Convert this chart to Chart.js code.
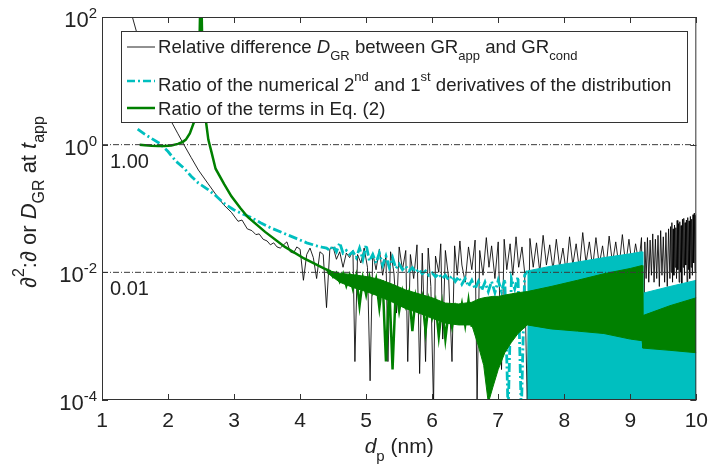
<!DOCTYPE html>
<html>
<head>
<meta charset="utf-8">
<title>Ratio of derivatives</title>
<script src="https://cdn.jsdelivr.net/npm/chart.js@4.4.1/dist/chart.umd.min.js"></script>
<style>
	body { margin: 0; background: #fff; }
</style>
</head>
<body>
<canvas id="chart" width="717" height="472"></canvas>
<script>
	// axis ticks and reference levels
	var xTicks = [1, 2, 3, 4, 5, 6, 7, 8, 9, 10];
	var yTicks = [1e-4, 1e-2, 1, 1e2];
	var refX = [1, 10];
	var refLevels = [1, 0.01];
	var refLabels = ['1.00', '0.01'];

	// relative difference D_GR (black)
	var blackX = [
		1.42, 1.46, 1.52, 1.60, 1.70, 1.80, 1.90, 2.00, 2.06, 2.15,
		2.24, 2.35, 2.46, 2.60, 2.72, 2.84, 2.96, 3.06, 3.12, 3.20,
		3.27, 3.33, 3.38, 3.44, 3.50, 3.55, 3.60, 3.65, 3.70, 3.75,
		3.80, 3.85, 3.90, 3.95, 4.00, 4.05, 4.10, 4.15, 4.20, 4.25,
		4.30, 4.35, 4.40, 4.45, 4.50, 4.55, 4.60, 4.65, 4.70, 4.75,
		4.80, 4.83, 4.87, 4.92, 4.97, 5.02, 5.06, 5.10, 5.15, 5.20,
		5.25, 5.30, 5.33, 5.37, 5.42, 5.46, 5.50, 5.55, 5.60, 5.63,
		5.67, 5.72, 5.77, 5.81, 5.85, 5.90, 5.94, 5.98, 6.02, 6.05,
		6.10, 6.13, 6.16, 6.20, 6.25, 6.30, 6.34, 6.38, 6.42, 6.45,
		6.50, 6.55, 6.60, 6.65, 6.68, 6.72, 6.77, 6.82, 6.86, 6.90,
		6.95, 7.00, 7.05, 7.09, 7.13, 7.18, 7.22, 7.27, 7.31, 7.36,
		7.40, 7.44, 7.48, 7.53, 7.58, 7.63, 7.68, 7.73, 7.78, 7.83,
		7.88, 7.93, 7.98, 8.03, 8.08, 8.13, 8.18, 8.23, 8.28, 8.33,
		8.38, 8.43, 8.48, 8.53, 8.58, 8.63, 8.68, 8.73, 8.78, 8.83,
		8.88, 8.93, 8.98, 9.03, 9.08, 9.13, 9.17,
		9.20, 9.22, 9.24, 9.26, 9.28, 9.30, 9.32, 9.34, 9.36, 9.38,
		9.40, 9.42, 9.44, 9.46, 9.48, 9.50, 9.52, 9.54, 9.56, 9.58,
		9.60, 9.61, 9.62, 9.63, 9.64, 9.65, 9.66, 9.67, 9.68, 9.69,
		9.70, 9.71, 9.72, 9.73, 9.74, 9.75, 9.76, 9.77, 9.78, 9.79,
		9.80, 9.81, 9.82, 9.83, 9.84, 9.85, 9.86, 9.87, 9.88, 9.89,
		9.90, 9.91, 9.92, 9.93, 9.94, 9.95, 9.96, 9.97, 9.98, 9.99,
		10.0
	];
	var blackY = [
		150, 100, 60, 36, 20, 11, 6.3, 3.3, 2.2, 1.48,
		1.0, 0.63, 0.40, 0.25, 0.168, 0.115, 0.087, 0.063, 0.066, 0.048,
		0.045, 0.039, 0.040, 0.033, 0.031, 0.027, 0.029, 0.025, 0.024, 0.027,
		0.030, 0.021, 0.020, 0.025, 0.023, 0.0075, 0.019, 0.024, 0.017, 0.008,
		0.021, 0.019, 0.0028, 0.023, 0.025, 0.016, 0.021, 0.012, 0.020, 0.017,
		0.022, 0.0004, 0.019, 0.014, 0.024, 0.012, 0.0002, 0.020, 0.011, 0.023,
		0.009, 0.018, 0.0004, 0.021, 0.010, 0.0023, 0.025, 0.011, 0.022, 0.0004,
		0.019, 0.008, 0.027, 0.00026, 0.020, 0.0004, 0.024, 0.006, 0.00008, 0.018,
		0.010, 0.028, 0.0009, 0.022, 0.008, 0.0004, 0.026, 0.009, 0.031, 0.013,
		0.007, 0.025, 0.011, 0.032, 0.0001, 0.022, 0.009, 0.035, 0.012, 0.026,
		0.008, 0.030, 0.0003, 0.033, 0.011, 0.028, 0.009, 0.036, 0.012, 0.025,
		0.010, 0.00008, 0.034, 0.012, 0.029, 0.010, 0.038, 0.013, 0.027, 0.011,
		0.033, 0.012, 0.024, 0.010, 0.036, 0.013, 0.028, 0.011, 0.042, 0.014,
		0.030, 0.012, 0.035, 0.013, 0.026, 0.011, 0.037, 0.014, 0.030, 0.012,
		0.039, 0.013, 0.033, 0.012, 0.028, 0.014, 0.035,
		0.0001, 0.030, 0.008, 0.035, 0.007, 0.032, 0.009, 0.040, 0.007, 0.033,
		0.008, 0.038, 0.006, 0.045, 0.009, 0.036, 0.007, 0.042, 0.006, 0.048,
		0.008, 0.052, 0.010, 0.060, 0.007, 0.048, 0.009, 0.055, 0.012, 0.050,
		0.008, 0.065, 0.011, 0.058, 0.007, 0.062, 0.010, 0.054, 0.006, 0.068,
		0.012, 0.070, 0.009, 0.060, 0.013, 0.066, 0.007, 0.072, 0.011, 0.064,
		0.008, 0.075, 0.012, 0.068, 0.009, 0.080, 0.014, 0.085, 0.010, 0.078,
		0.080
	];

	// ratio of numerical 2nd and 1st derivatives (cyan)
	var cyanX = [
		1.54, 1.65, 1.75, 1.87, 2.00, 2.12, 2.25, 2.35, 2.46, 2.60,
		2.72, 2.85, 3.00, 3.12, 3.25, 3.40, 3.55, 3.75, 3.94, 4.10,
		4.25, 4.35, 4.40, 4.45, 4.50, 4.55, 4.60, 4.65, 4.70, 4.75,
		4.80, 4.85, 4.90, 4.95, 5.00, 5.05, 5.10, 5.15, 5.20, 5.25,
		5.30, 5.35, 5.40, 5.45, 5.50, 5.55, 5.60, 5.65, 5.70, 5.75,
		5.80, 5.85, 5.90, 5.95, 6.00, 6.05, 6.10, 6.15, 6.20, 6.25,
		6.30, 6.35, 6.40, 6.45, 6.50, 6.55, 6.60, 6.65, 6.70, 6.75,
		6.80, 6.85, 6.90, 6.95, 7.00, 7.05, 7.10, 7.15, 7.20, 7.25,
		7.30, 7.35, 7.40, 7.44
	];
	var cyanY = [
		1.75, 1.45, 1.25, 1.05, 0.78, 0.55, 0.42, 0.32, 0.25, 0.20,
		0.16, 0.12, 0.095, 0.083, 0.073, 0.060, 0.050, 0.041, 0.034, 0.029,
		0.026, 0.0245, 0.024, 0.022, 0.026, 0.021, 0.029, 0.020, 0.022, 0.019,
		0.021, 0.017, 0.024, 0.016, 0.027, 0.015, 0.019, 0.014, 0.020, 0.013,
		0.018, 0.012, 0.017, 0.0115, 0.0135, 0.011, 0.0125, 0.0105, 0.0118, 0.010,
		0.0112, 0.0095, 0.0105, 0.009, 0.0098, 0.0085, 0.0095, 0.008, 0.009, 0.0076,
		0.0088, 0.0072, 0.0085, 0.0065, 0.008, 0.006, 0.0075, 0.0055, 0.0072, 0.0052,
		0.007, 0.005, 0.0072, 0.0048, 0.0075, 0.005, 0.0078, 0.00006, 0.008, 0.0055,
		0.0085, 0.00006, 0.009, 0.0105
	];
	// dense oscillating part of the cyan series: upper envelope, down to the axis
	var cyanBandX = [7.44, 7.80, 8.20, 8.60, 9.00, 9.18, 9.19, 9.60, 10.0];
	var cyanBandTop = [0.0105, 0.0125, 0.0145, 0.017, 0.0195, 0.021, 0.0047, 0.006, 0.0075];

	// ratio of the terms in Eq. (2) (green)
	var greenX = [
		1.57, 1.65, 1.75, 1.85, 1.95, 2.05, 2.15, 2.22, 2.27, 2.33,
		2.39, 2.44, 2.47, 2.49, 2.495, 2.505, 2.52, 2.55, 2.57, 2.61,
		2.66, 2.72, 2.85, 2.96, 3.10, 3.21, 3.47, 3.77, 4.06, 4.36,
		4.45, 4.50, 4.55, 4.60, 4.65, 4.70, 4.75, 4.80, 4.85, 4.90,
		4.95, 5.00, 5.05, 5.10, 5.15, 5.20, 5.25, 5.30, 5.35, 5.40,
		5.45, 5.50, 5.55, 5.60, 5.65, 5.70, 5.75, 5.80, 5.85, 5.90,
		5.95, 6.00, 6.05, 6.10, 6.15, 6.20, 6.25, 6.30, 6.35, 6.40,
		6.45, 6.50, 6.55, 6.60
	];
	var greenY = [
		1.0, 0.98, 0.96, 0.95, 0.95, 0.97, 1.03, 1.1, 1.2, 1.5,
		2.2, 5, 20, 200, null, 200, 30, 5, 2.5, 1.2,
		0.75, 0.42, 0.24, 0.155, 0.10, 0.073, 0.043, 0.025, 0.0165, 0.0115,
		0.0105, 0.0085, 0.0098, 0.0072, 0.0095, 0.0062, 0.0090, 0.0055, 0.0088, 0.0030,
		0.0080, 0.0045, 0.0085, 0.0050, 0.0078, 0.0028, 0.0075, 0.0004, 0.0065, 0.0003,
		0.0060, 0.0025, 0.0050, 0.0030, 0.0048, 0.0012, 0.0042, 0.0025, 0.0040, 0.0012,
		0.0036, 0.0020, 0.0034, 0.0010, 0.0030, 0.0009, 0.0025, 0.0014, 0.0028, 0.0018,
		0.0032, 0.0015, 0.0036, 0.0014
	];
	// dense oscillating part of the green series: upper and lower envelopes
	var greenBandX = [
		4.40, 4.60, 4.80, 5.00, 5.20, 5.40, 5.60, 5.80, 6.00, 6.20,
		6.40, 6.60, 6.70, 6.78, 6.85, 6.92, 7.00, 7.10, 7.20, 7.30,
		7.44, 7.80, 8.20, 8.60, 9.00, 9.18, 9.19, 9.60, 10.0
	];
	var greenBandTop = [
		0.0108, 0.0097, 0.0092, 0.0086, 0.0078, 0.0065, 0.0053, 0.0046, 0.0040, 0.0033,
		0.0032, 0.0034, 0.0038, 0.0040, 0.0041, 0.0042, 0.0042, 0.0044, 0.0046, 0.0048,
		0.0050, 0.0060, 0.0075, 0.0095, 0.0115, 0.0128, 0.0021, 0.0030, 0.0040
	];
	var greenBandBottom = [
		0.0100, 0.0070, 0.0058, 0.0050, 0.0042, 0.0034, 0.0027, 0.0023, 0.0019, 0.0016,
		0.0015, 0.0015, 0.0007, 0.00035, 0.00009, 0.00016, 0.0003, 0.00055, 0.0008, 0.0011,
		0.0015, 0.0013, 0.0012, 0.0011, 0.0009, 0.00085, 0.00065, 0.0006, 0.00055
	];

	var FONT = '"Liberation Sans", Arial, sans-serif';
	var INK = '#222222';
	var CYAN = '#00BFBF';
	var GREEN = '#008000';
	var DASHDOT = [9, 3, 2, 3];

	function pts(xs, ys) {
		return xs.map(function (x, i) { return { x: x, y: ys[i] }; });
	}

	// text with italic / subscript / superscript pieces
	function rich(c, parts, x, y, size, measureOnly) {
		var cx = x;
		parts.forEach(function (p) {
			var t = p[0], s = p[1];
			var small = (s === 'sb' || s === 'sp');
			var fs = small ? Math.round(size * 0.72) : size;
			c.font = (s === 'i' ? 'italic ' : '') + fs + 'px ' + FONT;
			var dy = s === 'sb' ? size * 0.37 : (s === 'sp' ? -size * 0.55 : 0);
			if (!measureOnly) c.fillText(t, cx, y + dy);
			cx += c.measureText(t).width;
		});
		return cx - x;
	}

	var legendRows = [
		{ color: INK, width: 1, dash: [], lineY: 16, baseY: 22, parts: [['Relative difference ', 'n'], ['D', 'i'], ['GR', 'sb'], [' between GR', 'n'], ['app', 'sb'], [' and GR', 'n'], ['cond', 'sb']] },
		{ color: CYAN, width: 2.5, dash: [8, 3, 2, 3], lineY: 50, baseY: 60, parts: [['Ratio of the numerical 2', 'n'], ['nd', 'sp'], [' and 1', 'n'], ['st', 'sp'], [' derivatives of the distribution', 'n']] },
		{ color: GREEN, width: 2.5, dash: [], lineY: 77, baseY: 84, parts: [['Ratio of the terms in Eq. (2)', 'n']] }
	];

	var decor = {
		id: 'decor',
		afterDatasetsDraw: function (chart) {
			var c = chart.ctx, a = chart.chartArea;
			var xs = chart.scales.x, ys = chart.scales.y;
			c.save();
			c.fillStyle = INK;
			c.textAlign = 'left';
			c.textBaseline = 'alphabetic';

			// labels of the reference levels
			c.font = '20px ' + FONT;
			refLevels.forEach(function (v, i) {
				c.fillText(refLabels[i], a.left + 8, ys.getPixelForValue(v) + 23);
			});

			// axes box with inward ticks
			c.strokeStyle = '#333333';
			c.lineWidth = 1;
			c.setLineDash([]);
			c.strokeRect(a.left + 0.5, a.top + 0.5, a.right - a.left - 1, a.bottom - a.top - 1);
			c.beginPath();
			xTicks.forEach(function (v) {
				var px = Math.round(xs.getPixelForValue(v)) + 0.5;
				c.moveTo(px, a.bottom); c.lineTo(px, a.bottom - 6);
				c.moveTo(px, a.top); c.lineTo(px, a.top + 6);
			});
			yTicks.forEach(function (v) {
				var py = Math.round(ys.getPixelForValue(v)) + 0.5;
				c.moveTo(a.left, py); c.lineTo(a.left + 6, py);
				c.moveTo(a.right, py); c.lineTo(a.right - 6, py);
			});
			c.stroke();

			// y tick labels 10^n
			yTicks.forEach(function (v) {
				var py = ys.getPixelForValue(v);
				var e = String(Math.round(Math.log10(v)));
				c.font = '15px ' + FONT;
				var we = c.measureText(e).width;
				var right = a.left - 5;
				c.textAlign = 'left';
				c.fillText(e, right - we, py + 1);
				c.font = '22px ' + FONT;
				c.textAlign = 'right';
				c.fillText('10', right - we, py + 10);
			});
			c.textAlign = 'left';

			// x title
			var xt = [['d', 'i'], ['p', 'sb'], [' (nm)', 'n']];
			var wx = rich(c, xt, 0, 0, 21, true);
			rich(c, xt, (a.left + a.right) / 2 - wx / 2, 453, 21);

			// y title
			var yt = [['\u2202', 'i'], ['2', 'sp'], [':', 'n'], ['\u2202', 'i'], [' or ', 'n'], ['D', 'i'], ['GR', 'sb'], [' at ', 'n'], ['t', 'i'], ['app', 'sb']];
			var wy = rich(c, yt, 0, 0, 22, true);
			c.translate(36, 202);
			c.rotate(-Math.PI / 2);
			rich(c, yt, -wy / 2, 0, 22);
			c.setTransform(1, 0, 0, 1, 0, 0);

			// legend box
			var lx = a.left + 19, ly = a.top + 14, lw = 566, lh = 91;
			c.fillStyle = '#ffffff';
			c.fillRect(lx, ly, lw, lh);
			c.strokeStyle = '#333333';
			c.lineWidth = 1;
			c.strokeRect(lx + 0.5, ly + 0.5, lw, lh);
			legendRows.forEach(function (r) {
				c.strokeStyle = r.color;
				c.lineWidth = r.width;
				c.setLineDash(r.dash);
				c.beginPath();
				c.moveTo(lx + 6, ly + r.lineY);
				c.lineTo(lx + 34, ly + r.lineY);
				c.stroke();
				c.setLineDash([]);
				c.fillStyle = INK;
				rich(c, r.parts, lx + 37, ly + r.baseY, 18.6);
			});
			c.restore();
		}
	};

	var datasets = [];
	refLevels.forEach(function (v) {
		datasets.push({ data: pts(refX, refX.map(function () { return v; })), borderColor: '#3a3a3a', borderWidth: 1, borderDash: [6, 2, 1, 2], fill: false, order: 0 });
	});
	datasets.push({ data: pts(greenBandX, greenBandTop), borderColor: GREEN, backgroundColor: GREEN, borderWidth: 1, fill: '+1', order: 1 });
	datasets.push({ data: pts(greenBandX, greenBandBottom), borderColor: GREEN, borderWidth: 1, fill: false, order: 1 });
	datasets.push({ data: pts(greenX, greenY), borderColor: GREEN, borderWidth: 2.5, fill: false, order: 2 });
	datasets.push({ data: pts(cyanBandX, cyanBandTop), borderColor: CYAN, backgroundColor: CYAN, borderWidth: 1, fill: 'start', order: 3 });
	datasets.push({ data: pts(cyanX, cyanY), borderColor: CYAN, borderWidth: 2.8, borderDash: DASHDOT, fill: false, order: 4 });
	datasets.push({ data: pts(blackX, blackY), borderColor: 'rgba(0,0,0,0.85)', borderWidth: 1, fill: false, order: 5 });

	var chart = new Chart(document.getElementById('chart').getContext('2d'), {
		type: 'line',
		data: { datasets: datasets },
		options: {
			responsive: false,
			animation: false,
			events: [],
			layout: { padding: { left: 0, right: 13, top: 17, bottom: 0 } },
			plugins: { legend: { display: false }, tooltip: { enabled: false } },
			elements: { point: { radius: 0 }, line: { tension: 0 } },
			scales: {
				x: {
					type: 'linear', min: 1, max: 10,
					grid: { display: false, drawTicks: false },
					border: { display: false },
					ticks: { color: INK, font: { family: FONT, size: 21 }, padding: 9, maxRotation: 0 },
					afterBuildTicks: function (s) { s.ticks = xTicks.map(function (v) { return { value: v }; }); },
					afterFit: function (s) { s.height = 72; }
				},
				y: {
					type: 'logarithmic', min: 1e-4, max: 100,
					grid: { display: false, drawTicks: false },
					border: { display: false },
					ticks: { display: false },
					afterFit: function (s) { s.width = 102; }
				}
			}
		},
		plugins: [decor]
	});
</script>
</body>
</html>
